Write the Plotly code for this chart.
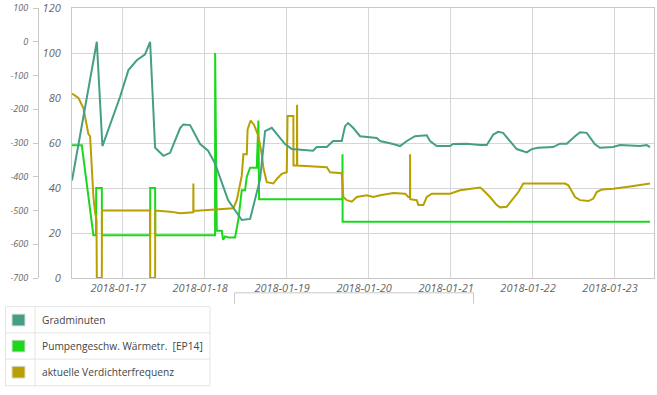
import plotly.graph_objects as go

# ---------------- data ----------------
grad_t = ["2018-01-16 09:20","2018-01-16 16:36","2018-01-16 18:14","2018-01-16 23:25",
          "2018-01-17 01:51","2018-01-17 04:18","2018-01-17 06:44","2018-01-17 08:12","2018-01-17 09:40",
          "2018-01-17 12:05","2018-01-17 14:03","2018-01-17 16:59","2018-01-17 17:56","2018-01-17 19:54",
          "2018-01-17 22:50","2018-01-18 01:10","2018-01-18 03:13","2018-01-18 07:01","2018-01-18 11:02",
          "2018-01-18 13:28","2018-01-18 16:23","2018-01-18 17:51","2018-01-18 19:49","2018-01-18 23:42",
          "2018-01-19 01:40","2018-01-19 07:54","2018-01-19 08:59","2018-01-19 11:55","2018-01-19 13:45",
          "2018-01-19 16:18","2018-01-19 17:16","2018-01-19 18:09","2018-01-19 19:37","2018-01-19 21:40",
          "2018-01-20 02:33","2018-01-20 03:31","2018-01-20 07:19","2018-01-20 09:22","2018-01-20 11:20",
          "2018-01-20 13:45","2018-01-20 17:11","2018-01-20 18:09","2018-01-20 20:06","2018-01-21 00:00",
          "2018-01-21 00:53","2018-01-21 04:53","2018-01-21 08:47","2018-01-21 10:44","2018-01-21 12:40",
          "2018-01-21 14:03","2018-01-21 15:31","2018-01-21 17:34","2018-01-21 19:31","2018-01-21 22:27",
          "2018-01-21 23:55","2018-01-22 01:45","2018-01-22 06:09","2018-01-22 08:12","2018-01-22 10:09",
          "2018-01-22 12:35","2018-01-22 14:03","2018-01-22 16:00","2018-01-22 18:26","2018-01-22 19:54",
          "2018-01-22 23:42","2018-01-23 01:45","2018-01-23 07:37","2018-01-23 09:34","2018-01-23 10:32"]
grad_v = [-411, 0, -309, -163, -84, -55, -37, 0, -314, -338,
          -329, -256, -245, -247, -303, -323, -361, -469, -528, -525,
          -408, -265, -255, -303, -318, -323, -312, -312, -294, -294,
          -250, -241, -255, -280, -285, -294, -303, -309, -294, -280,
          -277, -294, -309, -309, -303, -302, -306, -306, -275, -267,
          -270, -294, -318, -328, -318, -314, -312, -302, -302, -280,
          -268, -270, -304, -314, -312, -306, -309, -306, -312]

pump_t = ["2018-01-16 09:20","2018-01-16 12:12","2018-01-16 15:36","2018-01-16 16:23","2018-01-16 16:25",
          "2018-01-16 18:04","2018-01-16 18:06","2018-01-17 08:12","2018-01-17 08:14","2018-01-17 09:40",
          "2018-01-17 09:42","2018-01-18 03:13","2018-01-18 03:14","2018-01-18 03:43","2018-01-18 05:11",
          "2018-01-18 05:34","2018-01-18 06:09","2018-01-18 07:07","2018-01-18 09:04","2018-01-18 10:02",
          "2018-01-18 11:02","2018-01-18 12:00","2018-01-18 12:30","2018-01-18 13:28","2018-01-18 15:25",
          "2018-01-18 15:54","2018-01-18 16:06","2018-01-19 16:29","2018-01-19 16:31","2018-01-19 16:33",
          "2018-01-23 10:32"]
pump_v = [59, 59, 19, 19, 40,
          40, 19, 19, 40, 40,
          19, 19, 100, 21, 21,
          17, 18.5, 18, 18, 26,
          39, 39, 45, 49, 49,
          70, 35, 35, 55, 25,
          25]

verd_t = ["2018-01-16 09:20","2018-01-16 11:13","2018-01-16 12:40","2018-01-16 13:40","2018-01-16 14:08",
          "2018-01-16 14:38","2018-01-16 15:36","2018-01-16 16:06","2018-01-16 16:30","2018-01-16 16:36",
          "2018-01-16 18:04","2018-01-16 18:06","2018-01-17 08:12","2018-01-17 08:14","2018-01-17 09:40",
          "2018-01-17 09:42","2018-01-17 14:03","2018-01-17 16:59","2018-01-17 20:50","2018-01-17 20:52",
          "2018-01-17 20:54","2018-01-18 08:35","2018-01-18 09:34","2018-01-18 11:02","2018-01-18 11:30",
          "2018-01-18 12:30","2018-01-18 12:44","2018-01-18 13:37","2018-01-18 14:38","2018-01-18 15:54",
          "2018-01-18 16:53","2018-01-18 17:21","2018-01-18 18:21","2018-01-18 20:17","2018-01-18 21:17",
          "2018-01-18 22:44","2018-01-19 00:12","2018-01-19 00:26","2018-01-19 02:08","2018-01-19 02:10",
          "2018-01-19 03:10","2018-01-19 03:13","2018-01-19 03:16","2018-01-19 11:55","2018-01-19 12:53",
          "2018-01-19 16:18","2018-01-19 16:46","2018-01-19 17:46","2018-01-19 19:14","2018-01-19 20:42",
          "2018-01-19 23:37","2018-01-20 01:33","2018-01-20 03:31","2018-01-20 07:24","2018-01-20 10:50",
          "2018-01-20 11:48","2018-01-20 12:16","2018-01-20 12:18","2018-01-20 12:20","2018-01-20 14:15",
          "2018-01-20 14:43","2018-01-20 16:11","2018-01-20 17:11","2018-01-20 18:39","2018-01-21 00:00",
          "2018-01-21 02:56","2018-01-21 05:51","2018-01-21 08:47","2018-01-21 09:45","2018-01-21 11:42",
          "2018-01-21 13:40","2018-01-21 14:38","2018-01-21 16:36","2018-01-21 18:03","2018-01-21 20:00",
          "2018-01-21 21:27","2018-01-22 09:40","2018-01-22 10:38","2018-01-22 12:35","2018-01-22 14:03",
          "2018-01-22 16:29","2018-01-22 17:57","2018-01-22 18:56","2018-01-22 20:24","2018-01-22 23:48",
          "2018-01-23 04:41","2018-01-23 10:32"]
verd_v = [82, 80, 75.5, 68, 64,
          63, 36, 29, 26, 0,
          0, 30, 30, 0, 0,
          30, 29.5, 28.8, 29.2, 42,
          29.8, 31, 34.6, 45.5, 55,
          55, 66, 70, 68, 63,
          55, 49, 42.6, 42, 44,
          46.3, 47, 72, 72, 50,
          50, 77, 50, 49.2, 47,
          46.6, 36, 34.6, 33.9, 36,
          36.8, 36, 36.8, 37.8, 37.5,
          36, 36, 55, 35, 34.6,
          32.4, 32.4, 36, 37.5, 37.5,
          39, 39.7, 40.2, 39, 36,
          32.4, 31.4, 31.7, 34.6, 38.2,
          42, 42, 41.2, 36, 34.6,
          34.2, 35.3, 38.2, 39.3, 39.7,
          40.7, 42]

series_names = ["Gradminuten", "Pumpengeschw. Wärmetr.\u00a0 [EP14]", "aktuelle Verdichterfrequenz"]
series_colors = ["#459f86", "#1cd81c", "#b8a000"]

grad_ticks = [100, 0, -100, -200, -300, -400, -500, -600, -700]
grad_ticktext = ["100", "0", "-100", "-200", "-300", "-400", "-500", "-600", "-700"]
right_ticks = [0, 20, 40, 60, 80, 100, 120]

x_range = ["2018-01-16 09:20", "2018-01-23 11:42"]

# ---------------- layout helpers (pixel -> paper) ----------------
W, H = 657, 395
ML, MR, MT, MB = 0, 3, 5, 117
PW = W - ML - MR
PH = H - MT - MB


def px(x):
    return (x - ML) / PW


def py(y):
    return (H - MB - y) / PH


fig = go.Figure()
fig.add_trace(go.Scatter(x=grad_t, y=grad_v, name=series_names[0], mode="lines",
                         line=dict(color=series_colors[0], width=2), yaxis="y2"))
fig.add_trace(go.Scatter(x=pump_t, y=pump_v, name=series_names[1], mode="lines",
                         line=dict(color=series_colors[1], width=2), yaxis="y"))
fig.add_trace(go.Scatter(x=verd_t, y=verd_v, name=series_names[2], mode="lines",
                         line=dict(color=series_colors[2], width=2), yaxis="y"))

tick_font_x = dict(family="Open Sans", size=11, color="#666666", style="italic")
tick_font_y = dict(family="Open Sans", size=11, color="#666666", style="italic")
tick_font_y2 = dict(family="Open Sans", size=9, color="#666666", style="italic")

fig.update_layout(
    width=W, height=H,
    margin=dict(l=ML, r=MR, t=MT, b=MB),
    paper_bgcolor="white", plot_bgcolor="white",
    showlegend=False,
    xaxis=dict(domain=[px(72), 1], type="date", range=x_range,
               tick0="2018-01-17", dtick=86400000, tickformat="%Y-%m-%d",
               showgrid=True, gridcolor="#d6d6d6", gridwidth=1,
               showline=True, linecolor="#c8c8c8", mirror=True,
               ticks="", zeroline=False, tickfont=tick_font_x,
               ticklabeloverflow="allow", ticklabelshift=-4),
    yaxis=dict(range=[0, 120], tickvals=right_ticks, showgrid=True, gridcolor="#d6d6d6",
               showline=True, linecolor="#c8c8c8", mirror=True, ticks="",
               zeroline=False, tickfont=tick_font_y, ticklabelstandoff=8,
               ticklabeloverflow="allow"),
    yaxis2=dict(range=[-700, 100], overlaying="y", anchor="free", position=px(38), side="left",
                tickvals=grad_ticks, ticktext=grad_ticktext, showgrid=False,
                showline=True, linecolor="#c8c8c8", ticks="outside", ticklen=5,
                tickcolor="#c8c8c8", zeroline=False, tickfont=tick_font_y2,
                ticklabelstandoff=3, ticklabeloverflow="allow"),
)

shapes = []
line_col = "#c8c8c8"
# navigator frame below the axis
shapes.append(dict(type="line", xref="paper", yref="paper", x0=px(234.5), x1=px(473.5), y0=py(293), y1=py(293),
                   line=dict(color=line_col, width=1)))
shapes.append(dict(type="line", xref="paper", yref="paper", x0=px(234.5), x1=px(234.5), y0=py(293), y1=py(304),
                   line=dict(color=line_col, width=1)))
shapes.append(dict(type="line", xref="paper", yref="paper", x0=px(473.5), x1=px(473.5), y0=py(293), y1=py(304),
                   line=dict(color=line_col, width=1)))

# legend table
leg_col = "#e4e4e4"
leg_top, leg_bot = 307, 387
row_sep = [333.5, 360]
shapes.append(dict(type="rect", xref="paper", yref="paper", x0=px(5.5), x1=px(210), y0=py(leg_top), y1=py(leg_bot),
                   line=dict(color=leg_col, width=1), fillcolor="rgba(255,255,255,0.9)", layer="above"))
for ys in row_sep:
    shapes.append(dict(type="line", xref="paper", yref="paper", x0=px(5.5), x1=px(210), y0=py(ys), y1=py(ys),
                       line=dict(color=leg_col, width=1), layer="above"))
shapes.append(dict(type="line", xref="paper", yref="paper", x0=px(35), x1=px(35), y0=py(leg_top), y1=py(leg_bot),
                   line=dict(color=leg_col, width=1), layer="above"))

row_centers = [320.5, 346.8, 373.2]
annotations = []
for name, col, yc in zip(series_names, series_colors, row_centers):
    shapes.append(dict(type="rect", xref="paper", yref="paper", x0=px(12), x1=px(25), y0=py(yc - 6), y1=py(yc + 6),
                       fillcolor=col, line=dict(color="#dddddd", width=1), layer="above"))
    annotations.append(dict(x=px(40), y=py(yc), xref="paper", yref="paper", text=name, showarrow=False,
                            xanchor="left", yanchor="middle",
                            font=dict(family="Open Sans", size=10.2, color="#444444")))

fig.update_layout(shapes=shapes, annotations=annotations)

fig.write_html("out.html", config={"displayModeBar": False},
               post_script="document.body.style.margin='0';")
